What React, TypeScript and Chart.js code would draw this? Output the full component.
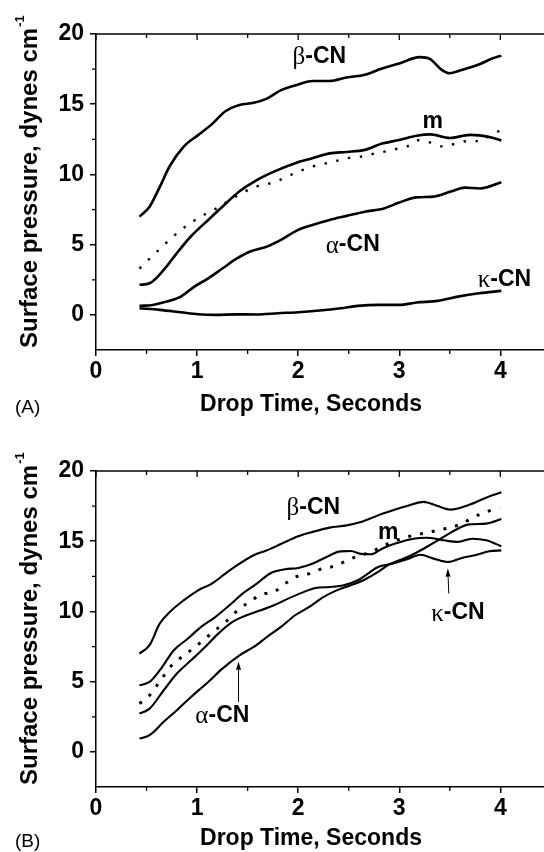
import React, { useEffect, useRef } from "react";
import { Chart, registerables } from "chart.js";

Chart.register(...registerables);

// ---------- Panel A data (Drop time in seconds, surface pressure in dynes/cm) ----------
const A_BETA_X = [0.43, 0.53, 0.63, 0.73, 0.87, 1.01, 1.15, 1.28, 1.42, 1.56, 1.69, 1.83, 2.0, 2.14, 2.31, 2.48, 2.66, 2.83, 3.0, 3.2, 3.31, 3.41, 3.5, 3.6, 3.8, 3.92, 4.01];
const A_BETA_Y = [7.0, 7.7, 9.1, 10.6, 12.0, 12.8, 13.6, 14.5, 14.95, 15.1, 15.4, 16.0, 16.4, 16.65, 16.65, 16.9, 17.1, 17.55, 17.9, 18.35, 18.2, 17.5, 17.2, 17.4, 17.87, 18.25, 18.46];

const A_M_X = [0.43, 0.53, 0.67, 0.8, 0.94, 1.11, 1.25, 1.42, 1.59, 1.76, 1.97, 2.14, 2.31, 2.48, 2.66, 2.83, 3.0, 3.17, 3.31, 3.5, 3.7, 3.9, 4.01];
const A_M_Y = [2.14, 2.25, 3.2, 4.4, 5.6, 6.76, 7.7, 8.8, 9.6, 10.2, 10.8, 11.15, 11.5, 11.6, 11.75, 12.2, 12.45, 12.75, 12.85, 12.6, 12.82, 12.65, 12.42];

const A_DOT_X = [0.43, 0.53, 0.64, 0.75, 0.87, 0.97, 1.1, 1.21, 1.33, 1.45, 1.57, 1.69, 1.8, 1.92, 2.04, 2.16, 2.28, 2.4, 2.52, 2.62, 2.74, 2.84, 2.96, 3.08, 3.2, 3.31, 3.43, 3.55, 3.67, 3.79, 3.9, 4.01];
const A_DOT_Y = [3.3, 4.0, 4.75, 5.5, 6.2, 6.7, 7.25, 7.65, 8.2, 8.7, 9.1, 9.3, 9.55, 9.95, 10.3, 10.6, 10.8, 11.0, 11.2, 11.27, 11.46, 11.6, 11.8, 12.0, 12.45, 12.26, 12.0, 12.18, 12.37, 12.37, 12.77, 13.18];

const A_ALPHA_X = [0.43, 0.56, 0.7, 0.84, 0.97, 1.11, 1.25, 1.39, 1.52, 1.69, 1.83, 2.0, 2.14, 2.31, 2.48, 2.66, 2.83, 3.0, 3.17, 3.34, 3.51, 3.65, 3.8, 4.01];
const A_ALPHA_Y = [0.64, 0.71, 0.95, 1.3, 2.0, 2.6, 3.3, 4.0, 4.5, 4.86, 5.34, 6.05, 6.4, 6.76, 7.05, 7.35, 7.54, 8.0, 8.37, 8.42, 8.78, 9.06, 9.0, 9.44];

const A_KAPPA_X = [0.43, 0.63, 0.84, 1.01, 1.18, 1.39, 1.59, 1.8, 2.0, 2.21, 2.42, 2.59, 2.79, 3.0, 3.17, 3.38, 3.58, 3.79, 4.01];
const A_KAPPA_Y = [0.47, 0.36, 0.19, 0.05, 0.0, 0.04, 0.03, 0.12, 0.19, 0.31, 0.47, 0.64, 0.71, 0.71, 0.88, 1.0, 1.3, 1.54, 1.71];

// ---------- Panel B data ----------
const B_BETA_X = [0.43, 0.53, 0.63, 0.73, 0.87, 1.01, 1.15, 1.28, 1.42, 1.56, 1.69, 1.83, 2.0, 2.14, 2.31, 2.48, 2.62, 2.79, 2.96, 3.1, 3.24, 3.38, 3.51, 3.68, 3.86, 4.01];
const B_BETA_Y = [7.0, 7.6, 9.13, 9.96, 10.8, 11.5, 12.0, 12.7, 13.4, 14.0, 14.35, 14.8, 15.35, 15.66, 15.97, 16.13, 16.37, 16.84, 17.25, 17.56, 17.8, 17.5, 17.25, 17.56, 18.1, 18.48];

const B_M_X = [0.43, 0.53, 0.63, 0.77, 0.91, 1.04, 1.18, 1.32, 1.45, 1.59, 1.73, 1.87, 2.0, 2.14, 2.28, 2.42, 2.52, 2.62, 2.72, 2.83, 2.96, 3.14, 3.27, 3.44, 3.58, 3.72, 3.86, 4.01];
const B_M_Y = [4.74, 4.98, 5.8, 7.24, 8.07, 8.9, 9.6, 10.44, 11.27, 11.98, 12.74, 13.0, 13.1, 13.4, 13.88, 14.28, 14.3, 14.1, 14.07, 14.47, 14.83, 15.18, 15.25, 15.07, 14.95, 15.18, 15.07, 14.64];

const B_DOT_X = [0.43, 0.53, 0.65, 0.75, 0.85, 0.96, 1.08, 1.18, 1.3, 1.42, 1.52, 1.64, 1.76, 1.87, 1.99, 2.11, 2.21, 2.33, 2.45, 2.55, 2.67, 2.79, 2.91, 3.02, 3.14, 3.26, 3.38, 3.5, 3.62, 3.74, 3.86, 3.99];
const B_DOT_Y = [3.44, 4.03, 5.22, 6.17, 6.76, 7.35, 8.07, 8.66, 9.37, 10.2, 10.68, 11.22, 11.39, 11.98, 12.5, 12.69, 12.98, 13.17, 13.52, 13.83, 14.12, 14.47, 14.88, 15.18, 15.42, 15.59, 15.78, 15.97, 16.25, 16.73, 17.08, 17.39];

const B_KAPPA_X = [0.43, 0.53, 0.67, 0.8, 0.94, 1.08, 1.21, 1.35, 1.49, 1.63, 1.76, 1.9, 2.04, 2.17, 2.31, 2.45, 2.59, 2.69, 2.79, 2.93, 3.07, 3.21, 3.34, 3.48, 3.62, 3.75, 3.89, 4.01];
const B_KAPPA_Y = [2.73, 3.08, 4.39, 5.58, 6.52, 7.47, 8.42, 9.25, 9.73, 10.08, 10.44, 10.91, 11.34, 11.67, 11.74, 11.86, 12.22, 12.69, 13.17, 13.4, 13.69, 14.04, 13.76, 13.52, 13.81, 14.0, 14.28, 14.35];

const B_ALPHA_X = [0.43, 0.53, 0.67, 0.8, 0.94, 1.11, 1.25, 1.42, 1.56, 1.69, 1.83, 1.97, 2.11, 2.24, 2.38, 2.52, 2.66, 2.79, 2.9, 3.0, 3.14, 3.27, 3.41, 3.55, 3.69, 3.86, 4.01];
const B_ALPHA_Y = [0.95, 1.19, 2.14, 2.97, 3.91, 4.98, 5.93, 6.88, 7.47, 8.18, 8.9, 9.73, 10.32, 10.98, 11.5, 11.86, 12.27, 12.81, 13.36, 13.64, 14.07, 14.59, 15.18, 15.78, 16.2, 16.25, 16.58];

// ---------- Axes ----------
const X_MIN = 0;
const X_MAX = 4.6;
const Y_MIN = -2.5;
const Y_MAX = 20;
const X_MAJOR = [0, 1, 2, 3, 4];
const X_MINOR = [0.5, 1.5, 2.5, 3.5, 4.5];
const Y_MINOR = [2.5, 7.5, 12.5, 17.5];
const X_TITLE = "Drop Time, Seconds";
const Y_TITLE = "Surface pressure, dynes cm";
const Y_TITLE_SUP = "-1";

// ---------- Annotations ----------
const A_LABELS = [
  { greek: "β", text: "-CN", x: 2.21, y: 18.4 },
  { greek: "", text: "m", x: 3.33, y: 13.76 },
  { greek: "α", text: "-CN", x: 2.54, y: 4.98 },
  { greek: "κ", text: "-CN", x: 4.04, y: 2.5 },
];
const B_LABELS = [
  { greek: "β", text: "-CN", x: 2.15, y: 17.39 },
  { greek: "", text: "m", x: 2.89, y: 15.6 },
  { greek: "κ", text: "-CN", x: 3.58, y: 9.89 },
  { greek: "α", text: "-CN", x: 1.25, y: 2.61 },
];
const B_ARROWS = [
  { x0: 3.49, y0: 11.27, x1: 3.48, y1: 13.05 },
  { x0: 1.41, y0: 3.56, x1: 1.41, y1: 6.41 },
];

const SANS = '"Liberation Sans", Arial, sans-serif';
const SERIF = '"Liberation Serif", "Times New Roman", serif';

type Series = { xs: number[]; ys: number[]; dotted?: boolean };
type Label = { greek: string; text: string; x: number; y: number };
type Arrow = { x0: number; y0: number; x1: number; y1: number };

const CANVAS_W = 561;
const AREA_BOTTOM = 350;

function Panel(props: {
  top: number;
  height: number;
  series: Series[];
  labels: Label[];
  arrows: Arrow[];
  lineWidth: number;
  dotWidth: number;
  titleGap: number;
}) {
  const ref = useRef<HTMLCanvasElement | null>(null);
  useEffect(() => {
    const canvas = ref.current;
    if (!canvas) return;
    const { height, series, labels, arrows, lineWidth, dotWidth, titleGap } = props;

    const framePlugin = {
      id: "frame",
      afterDraw(chart: any) {
        const { ctx, chartArea: a } = chart;
        const xs = chart.scales.x;
        const ys = chart.scales.y;
        ctx.save();
        ctx.strokeStyle = "#000";
        ctx.lineWidth = 1.5;
        ctx.beginPath();
        ctx.moveTo(a.left, a.top);
        ctx.lineTo(a.right + 2, a.top);
        ctx.stroke();
        ctx.lineWidth = 1.3;
        ctx.beginPath();
        for (const v of X_MAJOR) {
          const p = xs.getPixelForValue(v);
          ctx.moveTo(p, a.top);
          ctx.lineTo(p, a.top + 6);
        }
        for (const v of X_MINOR) {
          const p = xs.getPixelForValue(v);
          ctx.moveTo(p, a.top);
          ctx.lineTo(p, a.top + 4);
          ctx.moveTo(p, a.bottom);
          ctx.lineTo(p, a.bottom + 4);
        }
        for (const v of Y_MINOR) {
          const p = ys.getPixelForValue(v);
          ctx.moveTo(a.left, p);
          ctx.lineTo(a.left - 4, p);
        }
        ctx.stroke();

        // axis titles
        ctx.fillStyle = "#000";
        ctx.textBaseline = "middle";
        ctx.textAlign = "center";
        ctx.font = `bold 23px ${SANS}`;
        ctx.fillText(X_TITLE, a.left + 215, a.bottom + titleGap);

        ctx.save();
        ctx.translate(30, a.bottom - 2);
        ctx.rotate(-Math.PI / 2);
        ctx.textAlign = "left";
        ctx.font = `bold 24px ${SANS}`;
        ctx.fillText(Y_TITLE, 0, 0);
        const w = ctx.measureText(Y_TITLE).width;
        ctx.font = `bold 13px ${SANS}`;
        ctx.fillText(Y_TITLE_SUP, w + 1, -10);
        ctx.restore();

        ctx.restore();
      },
    };

    const labelPlugin = {
      id: "labels",
      afterDatasetsDraw(chart: any) {
        const { ctx } = chart;
        const xs = chart.scales.x;
        const ys = chart.scales.y;
        ctx.save();
        ctx.fillStyle = "#000";
        ctx.textBaseline = "middle";
        ctx.textAlign = "left";
        const gFont = `normal 25px ${SERIF}`;
        const tFont = `bold 23px ${SANS}`;
        for (const l of labels) {
          const cx = xs.getPixelForValue(l.x);
          const cy = ys.getPixelForValue(l.y);
          ctx.font = gFont;
          const gw = l.greek ? ctx.measureText(l.greek).width : 0;
          ctx.font = tFont;
          const tw = ctx.measureText(l.text).width;
          let x = cx - (gw + tw) / 2;
          if (l.greek) {
            ctx.font = gFont;
            ctx.fillText(l.greek, x, cy + 1);
            x += gw;
          }
          ctx.font = tFont;
          ctx.fillText(l.text, x, cy);
        }
        ctx.strokeStyle = "#000";
        ctx.lineWidth = 1;
        for (const ar of arrows) {
          const px0 = xs.getPixelForValue(ar.x0);
          const py0 = ys.getPixelForValue(ar.y0);
          const px1 = xs.getPixelForValue(ar.x1);
          const py1 = ys.getPixelForValue(ar.y1);
          const ang = Math.atan2(py1 - py0, px1 - px0);
          const hl = 8;
          const hw = 2.5;
          const bx = px1 - hl * Math.cos(ang);
          const by = py1 - hl * Math.sin(ang);
          ctx.beginPath();
          ctx.moveTo(px0, py0);
          ctx.lineTo(bx, by);
          ctx.stroke();
          ctx.beginPath();
          ctx.moveTo(px1, py1);
          ctx.lineTo(bx + hw * Math.sin(ang), by - hw * Math.cos(ang));
          ctx.lineTo(bx - hw * Math.sin(ang), by + hw * Math.cos(ang));
          ctx.closePath();
          ctx.fill();
        }
        ctx.restore();
      },
    };

    const tickFont = { family: SANS, size: 23, weight: "bold" as const };
    const grid = {
      display: true,
      drawOnChartArea: false,
      drawTicks: true,
      tickLength: 6,
      color: "#000",
      lineWidth: 1.5,
    };
    const border = { display: true, color: "#000", width: 1.5 };

    const chart = new Chart(canvas, {
      type: "line",
      data: {
        datasets: series.map((s) => ({
          data: s.xs.map((x, i) => ({ x, y: s.ys[i] })),
          borderColor: "#000",
          backgroundColor: "#000",
          borderWidth: s.dotted ? dotWidth : lineWidth,
          borderDash: s.dotted ? [dotWidth, 12 - dotWidth] : [],
          pointRadius: 0,
          fill: false,
          cubicInterpolationMode: "monotone" as const,
        })),
      },
      options: {
        responsive: false,
        animation: false,
        devicePixelRatio: 1,
        layout: { padding: { left: 0, right: 0, top: 34, bottom: 0 } },
        plugins: {
          legend: { display: false },
          tooltip: { enabled: false },
        },
        scales: {
          x: {
            type: "linear",
            min: X_MIN,
            max: X_MAX,
            ticks: {
              stepSize: 1,
              includeBounds: false,
              autoSkip: false,
              maxRotation: 0,
              padding: 2,
              color: "#000",
              font: tickFont,
            },
            grid,
            border,
            afterFit: (s: any) => {
              s.height = height - AREA_BOTTOM;
            },
          },
          y: {
            type: "linear",
            min: Y_MIN,
            max: Y_MAX,
            ticks: {
              stepSize: 5,
              includeBounds: false,
              autoSkip: false,
              padding: 6,
              color: "#000",
              font: tickFont,
            },
            grid,
            border,
            afterFit: (s: any) => {
              s.width = 96;
            },
          },
        },
      },
      plugins: [framePlugin, labelPlugin],
    } as any);
    return () => chart.destroy();
  }, []);

  return (
    <canvas
      ref={ref}
      width={CANVAS_W}
      height={props.height}
      style={{ position: "absolute", left: 0, top: props.top, width: CANVAS_W, height: props.height }}
    />
  );
}

const panelA: Series[] = [
  { xs: A_BETA_X, ys: A_BETA_Y },
  { xs: A_M_X, ys: A_M_Y },
  { xs: A_DOT_X, ys: A_DOT_Y, dotted: true },
  { xs: A_ALPHA_X, ys: A_ALPHA_Y },
  { xs: A_KAPPA_X, ys: A_KAPPA_Y },
];
const panelB: Series[] = [
  { xs: B_BETA_X, ys: B_BETA_Y },
  { xs: B_M_X, ys: B_M_Y },
  { xs: B_DOT_X, ys: B_DOT_Y, dotted: true },
  { xs: B_KAPPA_X, ys: B_KAPPA_Y },
  { xs: B_ALPHA_X, ys: B_ALPHA_Y },
];

export default function App() {
  const tag = { position: "absolute" as const, left: 15, fontFamily: SANS, fontSize: 19, lineHeight: "19px", color: "#000" };
  return (
    <div style={{ position: "fixed", left: 0, top: 0, width: 544, height: 852, overflow: "hidden", background: "#fff" }}>
      <Panel top={0} height={436} series={panelA} labels={A_LABELS} arrows={[]} lineWidth={2.6} dotWidth={2.4} titleGap={55} />
      <Panel top={437} height={415} series={panelB} labels={B_LABELS} arrows={B_ARROWS} lineWidth={2.1} dotWidth={3} titleGap={52} />
      <div style={{ ...tag, top: 397 }}>(A)</div>
      <div style={{ ...tag, top: 831 }}>(B)</div>
    </div>
  );
}
